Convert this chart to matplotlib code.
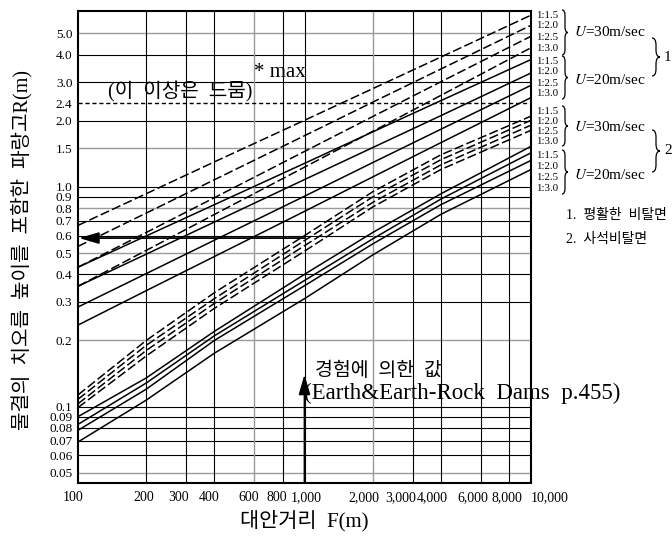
"""Wave run-up height vs fetch (log-log design chart)."""

import matplotlib

matplotlib.use("Agg")
import matplotlib.pyplot as plt
from matplotlib.patches import PathPatch
from matplotlib.path import Path
import matplotlib.transforms as mtransforms

plt.rcParams["font.family"] = ["Liberation Serif", "Noto Sans CJK KR"]
plt.rcParams["mathtext.fontset"] = "stix"

W, H = 672, 537

# fetch distances where the curves were read (m)
FETCH = [100, 200, 400, 1000, 2000, 4000, 10000]
SLOPE_LABELS = ["1:1.5", "1:2.0", "1:2.5", "1:3.0"]

# 1. smooth slope, U = 30 m/s (dashed) and U = 20 m/s (solid)
SMOOTH_U30 = [
    [0.668, 0.931, 1.30, 2.01, 2.80, 3.90, 6.05],
    [0.536, 0.760, 1.078, 1.71, 2.43, 3.44, 5.44],
    [0.431, 0.620, 0.893, 1.45, 2.09, 3.01, 4.85],
    [0.353, 0.514, 0.749, 1.23, 1.79, 2.61, 4.30],
]
SMOOTH_U20 = [
    [0.431, 0.598, 0.830, 1.28, 1.78, 2.47, 3.80],
    [0.353, 0.494, 0.692, 1.08, 1.51, 2.11, 3.30],
    [0.284, 0.403, 0.572, 0.907, 1.29, 1.83, 2.90],
    [0.235, 0.337, 0.482, 0.774, 1.11, 1.59, 2.55],
]
# 2. rubble slope
RUBBLE_U30 = [
    [0.113, 0.200, 0.330, 0.600, 0.95, 1.40, 2.10],
    [0.108, 0.190, 0.310, 0.570, 0.90, 1.33, 2.01],
    [0.103, 0.180, 0.295, 0.540, 0.85, 1.26, 1.91],
    [0.099, 0.170, 0.280, 0.510, 0.81, 1.20, 1.81],
]
RUBBLE_U20 = [
    [0.090, 0.135, 0.220, 0.400, 0.62, 0.93, 1.53],
    [0.083, 0.128, 0.210, 0.375, 0.58, 0.88, 1.43],
    [0.078, 0.120, 0.200, 0.355, 0.55, 0.83, 1.32],
    [0.069, 0.107, 0.175, 0.310, 0.49, 0.75, 1.20],
]

R_MAX = 2.4
R_ARROW = 0.585

X_TICKS = [100, 200, 300, 400, 600, 800, 1000, 2000, 3000, 4000, 6000, 8000, 10000]
X_TICK_LABELS = ["100", "200", "300", "400", "600", "800", "1,000", "2,000",
                 "3,000", "4,000", "6,000", "8,000", "10,000"]
Y_TICKS = [5.0, 4.0, 3.0, 2.4, 2.0, 1.5, 1.0, 0.9, 0.8, 0.7, 0.6, 0.5, 0.4,
           0.3, 0.2, 0.1, 0.09, 0.08, 0.07, 0.06, 0.05]
Y_TICK_LABELS = ["5.0", "4.0", "3.0", "2.4", "2.0", "1.5", "1.0", "0.9", "0.8",
                 "0.7", "0.6", "0.5", "0.4", "0.3", "0.2", "0.1", "0.09", "0.08",
                 "0.07", "0.06", "0.05"]
GRAY_Y = [5.0, 1.5, 0.8, 0.5, 0.2, 0.05]
GRAY_X = [600, 2000]

# x label nudges in pixels (the printed labels are not centred on the lines)
X_LABEL_SHIFT = {100: -5, 200: -2, 300: -8, 400: -5, 600: -6, 800: -6, 1000: 2,
                 2000: -9, 3000: -12, 4000: -9, 6000: -8, 8000: -2, 10000: 19}


def fig_xy(px, py):
    return px / W, 1 - py / H


def draw_brace(fig, x, y_top, y_bot, w, lw=0.9):
    ym = (y_top + y_bot) / 2
    q = min(w * 0.9, (y_bot - y_top) / 5)
    xm = x + w / 2
    pts = [
        (x, y_top), (xm, y_top), (xm, y_top + q),
        (xm, ym - q),
        (xm, ym), (x + w, ym),
        (xm, ym), (xm, ym + q),
        (xm, y_bot - q),
        (xm, y_bot), (x, y_bot),
    ]
    codes = [Path.MOVETO, Path.CURVE3, Path.CURVE3, Path.LINETO,
             Path.CURVE3, Path.CURVE3, Path.CURVE3, Path.CURVE3,
             Path.LINETO, Path.CURVE3, Path.CURVE3]
    verts = [fig_xy(px, py) for px, py in pts]
    fig.add_artist(PathPatch(Path(verts, codes), transform=fig.transFigure,
                             fill=False, lw=lw, color="black"))


fig = plt.figure(figsize=(W / 100, H / 100), dpi=100)
ax = fig.add_axes([78 / W, (H - 483) / H, 453 / W, 472 / H])
ax.set_xscale("log")
ax.set_yscale("log")
ax.set_xlim(100, 10000)
ax.set_ylim(0.0449, 6.32)

# grid
for yv in Y_TICKS:
    if yv == R_MAX:
        continue
    gray = yv in GRAY_Y
    ax.axhline(yv, color="#9a9a9a" if gray else "black", lw=1.0 if gray else 0.8, zorder=1)
for xv in X_TICKS[1:-1]:
    gray = xv in GRAY_X
    ax.axvline(xv, color="#9a9a9a" if gray else "black", lw=1.0 if gray else 0.8, zorder=1)
ax.axhline(R_MAX, color="black", lw=1.0, ls=(0, (3, 2)), zorder=2)

dash = (0, (6, 2.2))
for vals in SMOOTH_U30 + RUBBLE_U30:
    ax.plot(FETCH, vals, color="black", lw=1.1, ls=dash, zorder=3)
for vals in SMOOTH_U20 + RUBBLE_U20:
    ax.plot(FETCH, vals, color="black", lw=1.1, zorder=3)

# arrows
arrow_kw = dict(arrowstyle="-|>,head_length=1.2,head_width=0.35", color="black",
                lw=1.3, mutation_scale=10, shrinkA=0, shrinkB=0)
ax.annotate("", xy=(101, R_ARROW), xytext=(1000, R_ARROW), arrowprops=arrow_kw, zorder=4)
ax.annotate("", xy=(1000, 0.14), xytext=(1000, 0.0449), arrowprops=arrow_kw, zorder=4)

ax.text(600, 3.33, "* max", fontsize=15, va="center", ha="left")
ax.text(135, 2.70, "(이  이상은  드뭄)", fontsize=14.5, va="center", ha="left")
ax.text(1110, 0.146, "경험에  의한  값", fontsize=14, va="center", ha="left")
ax.text(1000, 0.115, "(Earth&Earth-Rock  Dams  p.455)", fontsize=16.5,
        va="center", ha="left")

ax.set_xticks(X_TICKS)
ax.set_xticklabels(X_TICK_LABELS, fontsize=10)
ax.set_yticks(Y_TICKS)
ax.set_yticklabels(Y_TICK_LABELS, fontsize=9.5)
ax.minorticks_off()
ax.tick_params(axis="x", length=0, pad=6)
ax.tick_params(axis="y", length=0, pad=4)
for tick_val, lab in zip(X_TICKS, ax.get_xticklabels()):
    lab.set_transform(lab.get_transform() + mtransforms.ScaledTranslation(
        X_LABEL_SHIFT[tick_val] / 100, 0, fig.dpi_scale_trans))
for sp in ax.spines.values():
    sp.set_linewidth(1.5)

fig.text(*fig_xy(304, 521), "대안거리  F(m)", fontsize=15, ha="center", va="center")
fig.text(*fig_xy(22, 250), "물결의  치오름  높이를  포함한  파랑고R(m)", fontsize=14.5,
         rotation=90, ha="center", va="center")

# right-hand key
key_rows = [15, 25.5, 37, 48.5, 61, 71.5, 83, 94, 111, 121.5, 132, 141.5, 156, 166.5, 177, 188]
for i, yy in enumerate(key_rows):
    fig.text(*fig_xy(536, yy), SLOPE_LABELS[i % 4], fontsize=7.8, ha="left", va="center")

group_spans = [(10, 55), (56, 99), (106, 146), (150, 194)]
u_labels = ["$U$=30m/sec", "$U$=20m/sec", "$U$=30m/sec", "$U$=20m/sec"]
u_rows = [32, 80, 127, 175]
for (y0, y1), lab, yy in zip(group_spans, u_labels, u_rows):
    draw_brace(fig, 562, y0, y1, 6)
    fig.text(*fig_xy(574, yy), lab, fontsize=11, ha="left", va="center")

draw_brace(fig, 652, 38, 76, 8)
fig.text(*fig_xy(664, 57), "1", fontsize=11, ha="left", va="center")
draw_brace(fig, 652, 130, 172, 8)
fig.text(*fig_xy(664, 151), "2", fontsize=11, ha="left", va="center")

fig.text(*fig_xy(566, 215), "1.  평활한  비탈면", fontsize=10, ha="left", va="center")
fig.text(*fig_xy(566, 240), "2.  사석비탈면", fontsize=10, ha="left", va="center")

fig.savefig("out.png", dpi=100)
